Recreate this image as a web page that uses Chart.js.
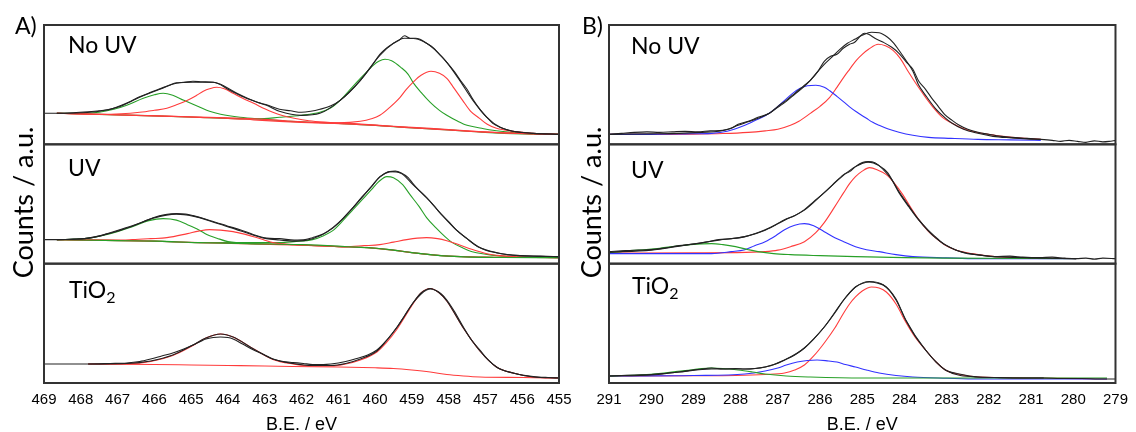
<!DOCTYPE html>
<html>
<head>
<meta charset="utf-8">
<script src="https://cdn.jsdelivr.net/npm/chart.js@4"></script>
<style>
  html, body { margin: 0; padding: 0; background: #fff; overflow: hidden; }
  body { width: 1136px; height: 432px; position: relative; }
  .box { position: absolute; top: 0; height: 432px; }
  .lbl { position: absolute; font-family: Lato, sans-serif; font-size: 23px; line-height: 1; color: #000; white-space: nowrap; }
  .lbl span { font-size: 16px; position: relative; top: 5px; }
  .ylab { position: absolute; width: 220px; text-align: center; font-family: Lato, sans-serif; font-size: 27px; line-height: 27px; transform: rotate(-90deg); white-space: nowrap; }
</style>
</head>
<body>
<div class="box" style="left:0;width:580px"><canvas id="chart-a"></canvas></div>
<div class="box" style="left:568px;width:568px"><canvas id="chart-b"></canvas></div>

<div class="lbl" style="left:15px;top:14px">A)</div>
<div class="lbl" style="left:582px;top:14px">B)</div>
<div class="lbl" style="left:68px;top:33px">No UV</div>
<div class="lbl" style="left:68px;top:156px">UV</div>
<div class="lbl" style="left:69px;top:278px">TiO<span>2</span></div>
<div class="lbl" style="left:631px;top:34px">No UV</div>
<div class="lbl" style="left:631px;top:158px">UV</div>
<div class="lbl" style="left:632px;top:274px">TiO<span>2</span></div>
<div class="ylab" style="left:-88px;top:189px">Counts / a.u.</div>
<div class="ylab" style="left:480px;top:189px">Counts / a.u.</div>

<script>
// tick labels
const aTicks = [469, 468, 467, 466, 465, 464, 463, 462, 461, 460, 459, 458, 457, 456, 455];
const bTicks = [291, 290, 289, 288, 287, 286, 285, 284, 283, 282, 281, 280, 279];

// panel A (Ti 2p), [B.E., counts]
const aNoUvRaw = [[469,31],[468.65,31],[468.2,31.5],[467.8,32.5],[467.5,33.5],[467.2,35],[467,37.5],[466.7,42],[466.4,47.5],[466.1,52],[465.85,55.5],[465.6,59],[465.4,61.5],[465.2,62],[464.95,63],[464.7,62.5],[464.4,62],[464.2,60],[463.95,55],[463.7,50],[463.5,46.5],[463.2,42],[462.95,39.5],[462.6,35],[462.3,33.5],[462,32],[461.75,33],[461.5,35],[461.2,38.5],[460.95,44],[460.7,52],[460.4,64],[460.1,78],[459.87,90],[459.7,96],[459.5,101],[459.35,104],[459.2,108.5],[459.05,106],[458.9,106],[458.78,105],[458.6,101],[458.43,97],[458.25,90],[458.05,82],[457.85,73],[457.7,65],[457.5,55],[457.34,45],[457.15,35],[456.96,27],[456.8,21],[456.6,17],[456.4,14.5],[456.25,13],[456,12],[455.7,11],[455.4,10.5],[455,10]];
const aNoUvFit = [[468.65,31],[468,31.5],[467.5,33],[467,37],[466.4,47],[465.85,55],[465.4,61],[464.95,62],[464.4,62],[463.95,54],[463.5,46],[462.95,39],[462.6,33],[462,29],[461.5,31],[460.95,44],[460.4,64],[459.87,89],[459.5,101],[459.2,106],[458.9,105.5],[458.6,101],[458.3,92],[458.05,82],[457.7,64],[457.34,44],[456.96,27],[456.6,17],[456.25,13],[455.7,11],[455,10]];
const aNoUvBg = [[468.65,31],[467.5,30],[466.5,29],[465.5,28],[464.76,27],[464,26],[463.3,24.5],[462.6,23],[462,22],[461.1,21],[460.2,19.5],[459.2,17],[458.3,15],[457.4,13],[456.5,11.5],[455.7,10.5],[455,10]];
const aNoUvGreen1 = [[468.65,31],[468,31],[467.5,32],[467.1,35],[466.75,39],[466.3,46],[466,49.5],[465.76,51],[465.5,49],[465.2,44],[464.76,37],[464.5,33],[464.2,30],[463.67,27],[463,25],[462.3,23],[461,21],[460,19],[459.2,17],[458,14.5],[457,12],[456,10.5],[455,10]];
const aNoUvRed1 = [[468.65,31],[467.5,30],[466.9,30.5],[466.4,32],[466,34],[465.66,36],[465.4,39.5],[465.1,44],[464.85,49],[464.67,53],[464.5,55.5],[464.3,57],[464.1,55.5],[463.86,51],[463.6,46],[463.3,41],[463,35.5],[462.78,32],[462.5,28.5],[462.2,26],[461.8,23.5],[461.3,22],[460.5,20.5],[459.5,18],[458.5,16],[457.5,13.5],[456.5,11.5],[455,10]];
const aNoUvGreen2 = [[468.65,31],[466,28.5],[464,26],[463.2,25.5],[462.6,27],[462,29],[461.5,32],[461.2,36.5],[460.95,44],[460.7,54],[460.4,66],[460.2,73.5],[460.05,79],[459.9,83],[459.73,85],[459.55,83.5],[459.3,77],[459.1,70],[458.97,62],[458.75,52],[458.5,42],[458.25,34],[458.05,29],[457.75,23],[457.5,19],[457.1,16],[456.8,14],[456.3,12],[455.9,11],[455,10]];
const aNoUvRed2 = [[468.65,31],[465,27.5],[463,25],[462,22.5],[461,21.5],[460.4,23],[460.1,25.5],[459.87,29],[459.6,37],[459.32,47],[459.15,55],[458.97,62],[458.75,69],[458.48,73],[458.25,71],[458.05,66],[457.85,56],[457.62,44],[457.4,33],[457.16,26],[456.95,20],[456.7,16],[456.25,13],[455.7,11],[455,10]];

const aUvRaw = [[469,24],[468.65,24],[468.2,24.5],[467.9,25],[467.5,27.5],[467.2,31],[466.9,34.5],[466.6,38],[466.3,42],[466.03,46],[465.7,49],[465.4,50],[465.15,49.5],[464.95,48],[464.6,44.5],[464.3,41],[464,37.5],[463.67,34],[463.3,29],[462.95,25.5],[462.6,25],[462.2,23.5],[461.9,24],[461.7,26],[461.4,30],[461.15,36],[460.9,44],[460.6,56],[460.35,67],[460.1,77],[459.87,87],[459.6,92],[459.45,92.5],[459.3,91],[459.1,86],[458.97,80],[458.8,73],[458.6,66],[458.4,58],[458.24,51],[458,42],[457.8,34],[457.5,25],[457.2,17],[456.95,13],[456.7,11],[456.4,9],[456.06,8],[455.5,7.5],[455,7]];
const aUvFit = [[468.65,24],[467.9,25],[467.2,30.5],[466.6,37.5],[466.03,45.5],[465.4,49.5],[464.95,47.5],[464.3,40.5],[463.67,33],[462.95,25],[462.6,23.7],[462.2,22.5],[461.7,25],[461.15,35.5],[460.6,56],[460.1,77],[459.87,86.5],[459.6,92],[459.3,90.5],[458.97,79],[458.6,66],[458.24,51],[457.8,34],[457.5,25],[457.2,17],[456.7,11],[456.06,8],[455,7]];
const aUvBg = [[468.65,24],[467,23],[466,22.5],[464.76,21],[463.5,20],[462,19],[461,17.5],[460.5,16.5],[460.2,16],[459.6,14],[459,11],[458.5,9],[458,7.5],[457.4,6.5],[456.5,6.2],[455,6]];
const aUvGreen1 = [[468.65,24],[467.9,25],[467.2,30],[466.6,37],[466.15,43],[465.76,45],[465.4,43.5],[465.1,39],[464.8,34],[464.56,29],[464.3,25.5],[464,22],[463.3,20],[462.2,19],[461,17],[460.2,16],[459.5,13.5],[459,11],[458,7.5],[457,6.5],[455,6]];
const aUvRed1 = [[468.65,24],[467,23.5],[466.6,24],[466.1,25],[465.66,26],[465.1,30],[464.8,32.5],[464.5,34],[464.2,33.5],[463.86,32],[463.55,29.5],[463.3,27],[463,23.5],[462.78,21],[462.2,19],[461,17],[460.2,16],[459.5,13.5],[459,11],[458,7.5],[457,6.5],[455,6]];
const aUvGreen2 = [[468.65,24],[466,22.5],[464.76,21],[462.6,21],[462.2,22],[461.7,24],[461.4,28],[461.15,33],[460.9,42],[460.6,54],[460.35,64],[460.1,74],[459.9,82],[459.68,87],[459.5,86],[459.25,79],[459.05,69],[458.8,57],[458.6,46],[458.35,36],[458.1,27],[457.9,21],[457.6,15.5],[457.36,12],[457,9.5],[456.7,8],[456,6.5],[455,6]];
const aUvRed2 = [[468.65,24],[466,22.5],[464.8,21],[462.6,19],[461.5,18],[460.8,17],[460.3,18],[459.87,19],[459.5,21.5],[459.14,24],[458.85,25.5],[458.6,26],[458.3,25],[458.05,23],[457.75,19.5],[457.5,16],[457.2,12.5],[456.96,10],[456.6,8],[456.25,7],[455,6]];

const aTiRaw = [[469,19],[468.4,19],[467.8,19],[467.2,19.5],[466.75,20],[466.4,21.5],[466.1,24],[465.8,27],[465.5,30],[465.2,34],[464.95,38],[464.75,41.5],[464.6,44],[464.4,45.5],[464.2,46],[464,45.5],[463.86,44],[463.6,39],[463.3,33],[463,28],[462.78,24],[462.5,21.5],[462.23,20.5],[461.95,19.5],[461.7,18.5],[461.4,18.5],[461.2,19],[461,20],[460.8,21.5],[460.5,24.5],[460.2,28],[459.95,33],[459.7,42],[459.4,56],[459.2,67],[458.97,80],[458.75,89],[458.6,93],[458.5,94],[458.35,92.5],[458.2,89],[458.05,83],[457.85,72],[457.6,56],[457.4,44],[457.15,33],[456.95,24],[456.7,16],[456.5,12.5],[456.25,10],[456,8],[455.7,6.5],[455.3,5.5],[455,5]];
const aTiFit = [[467.8,19],[466.75,19.5],[466.1,22],[465.5,28],[464.95,38],[464.6,45],[464.2,49],[463.86,46],[463.3,34],[462.78,24],[462.23,19.5],[461.7,17.5],[461.2,17.5],[460.8,19.5],[460.4,24],[459.95,32],[459.7,42],[459.4,56],[458.97,80],[458.75,90],[458.5,94.5],[458.25,90],[458.05,82],[457.6,55],[457.15,32],[456.7,16],[456.25,10],[455.7,6],[455,5]];
const aTiRed = [[467.8,19],[466.75,19.2],[466.1,21.5],[465.5,27.5],[464.95,37.5],[464.6,45],[464.2,49],[463.86,46],[463.3,34],[462.78,23.5],[462.23,19],[461.7,17],[461.2,17],[460.8,19],[460.4,23],[459.95,31],[459.7,40],[459.4,54],[458.97,79],[458.75,90],[458.5,94.5],[458.25,90],[458.05,82],[457.6,55],[457.15,32],[456.7,16],[456.25,10],[455.7,6],[455,5]];
const aTiBg = [[467.8,19],[466,18.5],[465,18],[464,17.5],[463,17],[462.23,16.5],[461,16],[460,15.2],[459.5,14.5],[459,13],[458.5,11],[458.05,8.5],[457.6,7],[457.15,6],[456,5.5],[455,5]];

// panel B (C 1s)
const bNoUvRaw = [[291,10],[290.7,11],[290.4,12],[290.1,12.5],[289.8,12],[289.5,12.5],[289.2,13],[288.9,12.5],[288.6,13.5],[288.3,14],[288.1,16],[287.94,20],[287.7,23],[287.47,27],[287.2,31],[287,38],[286.8,44],[286.6,51],[286.4,58],[286.23,64],[286.05,73],[285.9,83],[285.75,88],[285.6,90],[285.45,96],[285.3,100],[285.18,102],[285.05,108],[284.95,111],[284.85,110],[284.7,106],[284.5,102],[284.3,97],[284.13,91],[283.95,82],[283.8,75],[283.66,63],[283.5,55],[283.35,46],[283.2,38],[283.05,30],[282.87,24],[282.7,19],[282.5,15],[282.26,12],[282,10],[281.7,8],[281.47,7],[281.1,6],[280.77,5],[280.5,4],[280.3,3],[280.1,4],[279.9,3],[279.7,2],[279.5,3.5],[279.3,2.5],[279.15,3],[279,4]];
const bNoUvFit = [[291,10],[290,10.5],[289.34,11],[288.8,12],[288.4,13],[288.15,15.5],[287.94,19],[287.7,22.5],[287.47,26],[287.2,31],[287,37],[286.8,43],[286.6,50],[286.4,57],[286.23,64],[286.05,73],[285.9,80],[285.7,88],[285.53,95],[285.35,101],[285.18,105],[285,109],[284.78,112],[284.6,111.5],[284.4,107],[284.25,101],[284.13,94],[283.95,83],[283.8,73],[283.66,59],[283.5,49],[283.27,36],[283.05,27],[282.87,21],[282.6,15],[282.26,11],[281.9,8],[281.47,6.5],[281.1,5.5],[280.77,5]];
const bNoUvRed = [[291,10],[290,10],[289,10.2],[288.3,10.8],[287.7,12],[287.3,13.5],[287,15],[286.7,19],[286.5,23],[286.23,31],[286,38],[285.77,47],[285.6,57],[285.44,67],[285.3,75],[285.14,84],[285,90],[284.85,95],[284.62,100],[284.45,98.5],[284.27,94],[284.1,86],[283.9,72],[283.7,59],[283.5,47],[283.3,36],[283.1,27],[282.87,21],[282.63,16],[282.3,12],[281.86,9],[281.3,6.5],[280.77,5]];
const bNoUvBlue = [[291,10],[290,10],[289.2,10.5],[288.57,11],[288.2,13],[287.78,19],[287.55,23.5],[287.3,28.5],[287.05,36],[286.84,44],[286.65,51],[286.47,56],[286.3,58.5],[286.1,59],[285.9,57],[285.77,53.5],[285.6,48],[285.44,42.5],[285.3,37.5],[285.14,32.5],[284.9,26],[284.75,22],[284.6,19],[284.4,15.5],[284.13,12],[283.8,9],[283.43,7],[282.9,6],[282.26,5],[281.5,4.5],[280.77,4]];

const bUvRaw = [[291,12],[290.6,13],[290.3,13.5],[290,14],[289.7,15.5],[289.34,18],[289,19.5],[288.7,21.5],[288.4,24],[288.1,25],[287.78,27],[287.55,30],[287.3,34],[287.05,39],[286.84,44],[286.6,48],[286.37,54],[286.15,62],[285.9,71],[285.7,79],[285.44,89],[285.3,92],[285.16,97],[285,101],[284.86,102],[284.7,101],[284.5,94],[284.3,84],[284.13,72],[283.9,58],[283.66,44],[283.45,34],[283.27,27],[283.05,19],[282.8,14],[282.5,10],[282.2,8.5],[281.86,7],[281.5,7.5],[281.2,6.5],[280.8,6],[280.5,6.5],[280.2,5.5],[279.93,5],[279.7,5.5],[279.5,4.5],[279.3,5.5],[279,5]];
const bUvFit = [[291,11.5],[290,13.5],[289.34,17.5],[288.4,23.5],[287.78,27],[287.3,33.5],[286.84,43.5],[286.37,53.5],[285.9,71],[285.44,88.5],[285.16,97],[284.86,101.5],[284.6,98],[284.4,91],[284.13,71],[283.9,57],[283.66,43.5],[283.27,26],[282.8,14],[282.3,9],[281.86,7],[281,5.8],[279.93,5]];
const bUvRed = [[291,10.5],[289,10.8],[288,11],[287.3,12],[287,13.5],[286.7,17],[286.37,22],[286.1,31],[285.9,41],[285.65,57],[285.44,71],[285.3,80],[285.16,87],[285,92.5],[284.83,96],[284.65,94],[284.43,89],[284.25,81],[284.04,69],[283.85,56],[283.66,44],[283.45,33],[283.27,26],[283.05,19],[282.8,14],[282.4,10],[281.86,7],[281,5.8],[279.93,5]];
const bUvBlue = [[291,10],[290,10],[288.57,10],[288.1,12],[287.78,14],[287.55,18],[287.3,22],[287.05,28],[286.84,34],[286.6,38.5],[286.37,40],[286.15,38],[285.9,32],[285.65,26],[285.44,22],[285.16,17],[284.9,14],[284.6,12],[284.2,9],[283.8,7],[283,5.8],[282.26,5],[279.93,5]];
const bUvGreen = [[291,11],[290.5,13],[290,14.5],[289.7,16],[289.4,17.5],[289.07,19],[288.57,20],[288.3,19],[288,17],[287.7,14],[287.47,12],[287.1,10],[286.7,9],[286,8],[285.16,7],[284,6],[283,5.5],[279.93,5]];

const bTiRaw = [[291,7],[290.7,7.5],[290.4,8],[290,8.5],[289.7,9.5],[289.34,11],[289,13],[288.7,14.5],[288.57,15],[288.3,14],[288,14.5],[287.78,14],[287.55,14.5],[287.3,16],[287.05,19],[286.84,23],[286.6,28],[286.37,35],[286.15,44],[285.9,56],[285.65,70],[285.44,83],[285.3,90],[285.16,96],[285,99.5],[284.83,101],[284.65,100],[284.43,96],[284.2,83],[283.97,63],[283.75,47],[283.5,33],[283.25,21],[283.03,13],[282.7,9],[282.26,6],[281.8,5.5],[281.3,5],[280.7,5],[280.3,4.5],[279.8,4.5],[279.4,4],[279,4]];
const bTiFit = [[291,7],[290,8],[289.34,11],[288.57,14],[287.78,14],[287.3,16],[286.84,23],[286.37,35],[285.9,56],[285.44,83],[285.16,96],[284.83,101.5],[284.5,98],[284.2,84],[283.97,63],[283.5,33],[283.03,13],[282.26,6],[280.7,5]];
const bTiRed = [[291,7],[289,7.2],[288,7.5],[287.3,8.5],[286.84,10],[286.6,13],[286.37,18],[286.15,27],[285.9,40],[285.65,55],[285.44,70],[285.3,79],[285.16,86],[285,92],[284.78,96],[284.6,95],[284.43,91],[284.2,79],[283.97,61],[283.75,46],[283.5,33],[283.25,21],[283.03,13],[282.7,8.5],[282.26,6],[281,5],[279.2,4]];
const bTiBlue = [[291,7],[289,7.5],[287.78,9],[287.3,12],[287,15],[286.8,18],[286.54,21],[286.3,22.5],[286.07,23],[285.8,22],[285.6,21],[285.4,18.5],[285.16,16],[284.9,13],[284.6,10],[284.2,7.5],[283.8,6],[283,4.8],[282.26,4],[279.2,4]];
const bTiGreen = [[291,7],[290.3,8],[289.7,10],[289.3,12],[289.07,13],[288.8,14.5],[288.57,15],[288.3,14.5],[287.94,13],[287.6,11],[287.3,9],[286.8,7],[286.23,6],[285,5],[283,5],[279.2,5]];

const BLACK = '#222';
const RED = 'rgb(255,60,60)';
const GREEN = 'rgb(40,160,40)';
const BLUE = 'rgb(50,50,255)';

Chart.defaults.font.family = '"Liberation Sans", Arial, sans-serif';
Chart.defaults.color = '#000';

function line(points, color, yAxisID) {
  return {
    data: points.map(([x, y]) => ({ x, y })),
    borderColor: color,
    borderWidth: 1.1,
    pointRadius: 0,
    fill: false,
    cubicInterpolationMode: 'monotone',
    yAxisID
  };
}

// outline of each of the three stacked plots
const framePlugin = {
  id: 'frame',
  afterDatasetsDraw(chart) {
    const { ctx, chartArea } = chart;
    ctx.save();
    ctx.strokeStyle = '#333';
    ctx.lineWidth = 2;
    ['y1', 'y2', 'y3'].forEach(id => {
      const s = chart.scales[id];
      ctx.strokeRect(chartArea.left, s.top, chartArea.right - chartArea.left, s.bottom - s.top);
    });
    ctx.restore();
  }
};

function yAxis(weight) {
  return { display: false, min: 0, max: 119.3, stack: 'panel', stackWeight: 1, weight };
}

function makeChart(id, ticks, datasets, padLeft, padRight) {
  return new Chart(document.getElementById(id), {
    type: 'line',
    data: { datasets },
    options: {
      responsive: true,
      maintainAspectRatio: false,
      animation: false,
      layout: { padding: { left: padLeft, right: padRight, top: 25, bottom: 0 } },
      plugins: { legend: { display: false }, tooltip: { enabled: false } },
      scales: {
        x: {
          type: 'linear',
          reverse: true,
          min: ticks[ticks.length - 1],
          max: ticks[0],
          afterBuildTicks: s => { s.ticks = ticks.map(v => ({ value: v })); },
          afterFit: s => { s.height = 49; },
          grid: { display: false, drawTicks: false },
          border: { display: false },
          ticks: { font: { size: 15 }, padding: 8, maxRotation: 0, autoSkip: false, color: '#000' },
          title: { display: true, text: 'B.E. / eV', font: { size: 18, lineHeight: 0.8 }, padding: 0, color: '#000' }
        },
        y1: yAxis(3),
        y2: yAxis(2),
        y3: yAxis(1)
      }
    },
    plugins: [framePlugin]
  });
}

makeChart('chart-a', aTicks, [
  line(aNoUvRaw, BLACK, 'y1'), line(aNoUvFit, BLACK, 'y1'),
  line(aNoUvBg, RED, 'y1'), line(aNoUvRed1, RED, 'y1'), line(aNoUvRed2, RED, 'y1'),
  line(aNoUvGreen1, GREEN, 'y1'), line(aNoUvGreen2, GREEN, 'y1'),
  line(aUvRaw, BLACK, 'y2'), line(aUvFit, BLACK, 'y2'),
  line(aUvBg, GREEN, 'y2'), line(aUvRed1, RED, 'y2'), line(aUvRed2, RED, 'y2'),
  line(aUvGreen1, GREEN, 'y2'), line(aUvGreen2, GREEN, 'y2'),
  line(aTiRaw, BLACK, 'y3'), line(aTiFit, BLACK, 'y3'),
  line(aTiBg, RED, 'y3'), line(aTiRed, RED, 'y3')
], 44, 21);

makeChart('chart-b', bTicks, [
  line(bNoUvRaw, BLACK, 'y1'), line(bNoUvFit, BLACK, 'y1'),
  line(bNoUvBlue, BLUE, 'y1'), line(bNoUvRed, RED, 'y1'),
  line(bUvRaw, BLACK, 'y2'), line(bUvFit, BLACK, 'y2'),
  line(bUvGreen, GREEN, 'y2'), line(bUvBlue, BLUE, 'y2'), line(bUvRed, RED, 'y2'),
  line(bTiRaw, BLACK, 'y3'), line(bTiFit, BLACK, 'y3'),
  line(bTiGreen, GREEN, 'y3'), line(bTiBlue, BLUE, 'y3'), line(bTiRed, RED, 'y3')
], 41, 13);
</script>
</body>
</html>
